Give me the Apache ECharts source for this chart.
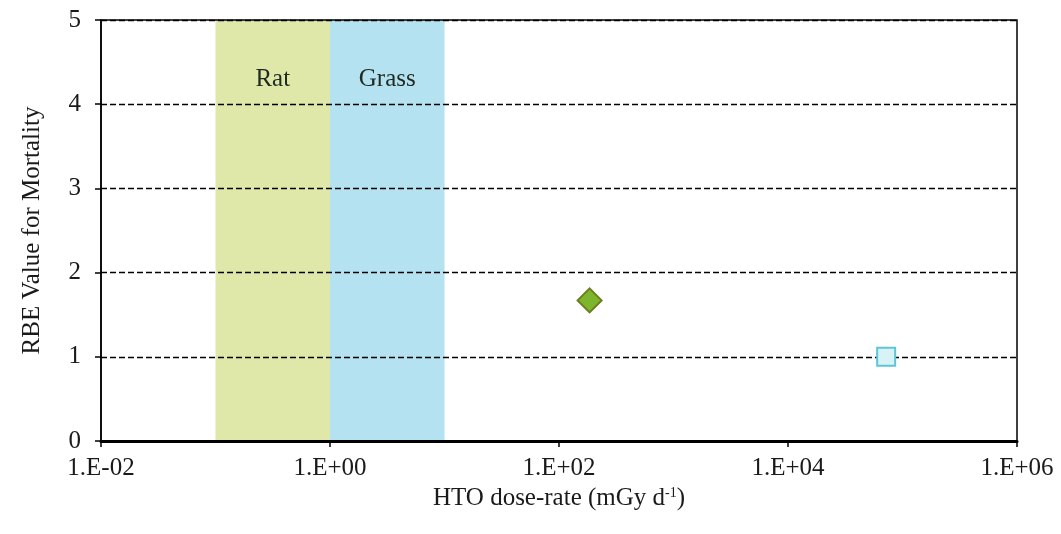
<!DOCTYPE html>
<html>
<head>
<meta charset="utf-8">
<script src="https://cdn.jsdelivr.net/npm/echarts@6/dist/echarts.min.js"></script>
<style>html,body{margin:0;padding:0;background:#fff}#c{width:1061px;height:534px}</style>
</head>
<body>
<div id="c"></div>
<script>
// Data
const bandNames = ['Rat', 'Grass'];
const bandRanges = [[0.1, 1], [1, 10]];
const bandColors = ['#dfe8a8', '#b4e2f1'];
const diamondPoint = [[185, 1.67]];
const squarePoint = [[72000, 1.0]];
const xMin = 0.01, xMax = 1e6;
const yMin = 0, yMax = 5;

const serif = '"Liberation Serif", "DejaVu Serif", serif';
function fmtExp(v) {
  const e = Math.round(Math.log10(v));
  const s = e < 0 ? '-' : '+';
  const a = Math.abs(e);
  return '1.E' + s + (a < 10 ? '0' + a : '' + a);
}

const chart = echarts.init(document.getElementById('c'), null, {renderer: 'canvas'});
chart.setOption({
  animation: false,
  backgroundColor: '#fff',
  grid: {left: 101, right: 44, top: 20, bottom: 93, show: true, z: 4, borderColor: '#000', borderWidth: 1.5, backgroundColor: 'transparent'},
  xAxis: {
    type: 'log', logBase: 10, min: xMin, max: xMax, interval: 2, z: 4,
    name: 'HTO dose-rate (mGy d{sup|-1})', nameLocation: 'middle', nameGap: 45,
    nameTextStyle: {fontFamily: serif, fontSize: 25, color: '#1a1a1a', rich: {sup: {fontFamily: serif, fontSize: 14, color: '#1a1a1a', verticalAlign: 'top', padding: [0, 0, 10, 0]}}},
    axisLine: {lineStyle: {color: '#000', width: 3}},
    axisTick: {show: true, inside: false, length: 6, lineStyle: {color: '#000', width: 1.5}},
    minorTick: {show: false},
    axisLabel: {fontFamily: serif, fontSize: 25, color: '#1a1a1a', margin: 15, formatter: fmtExp},
    splitLine: {show: false}
  },
  yAxis: {
    type: 'value', min: yMin, max: yMax, interval: 1, z: 4,
    name: 'RBE Value for Mortality', nameLocation: 'middle', nameGap: 56,
    nameTextStyle: {fontFamily: serif, fontSize: 25, color: '#1a1a1a'},
    axisLine: {show: true, lineStyle: {color: '#000', width: 1.5}},
    axisTick: {show: true, inside: false, length: 6, lineStyle: {color: '#000', width: 1.5}},
    axisLabel: {fontFamily: serif, fontSize: 25, color: '#1a1a1a', margin: 20},
    splitLine: {show: true, lineStyle: {color: '#000', type: [6, 3], width: 1.4}}
  },
  series: [
    {
      type: 'scatter', data: [], z: 1,
      markArea: {
        silent: true,
        data: bandNames.map((n, i) => [
          {name: n, xAxis: bandRanges[i][0], yAxis: yMax, itemStyle: {color: bandColors[i], opacity: 1},
           label: {show: true, position: 'insideTop', distance: 47, fontFamily: serif, fontSize: 25, color: '#1f2a22'}},
          {xAxis: bandRanges[i][1], yAxis: yMin}
        ])
      }
    },
    {
      type: 'scatter', data: diamondPoint, symbol: 'diamond', symbolSize: 24, z: 5,
      itemStyle: {color: '#7db62c', borderColor: '#6e7d1e', borderWidth: 2, opacity: 1}
    },
    {
      type: 'scatter', data: squarePoint, symbol: 'rect', symbolSize: 18, z: 5,
      itemStyle: {color: '#d8f3f6', borderColor: '#5cc6d6', borderWidth: 2, opacity: 1}
    }
  ]
});
</script>
</body>
</html>
